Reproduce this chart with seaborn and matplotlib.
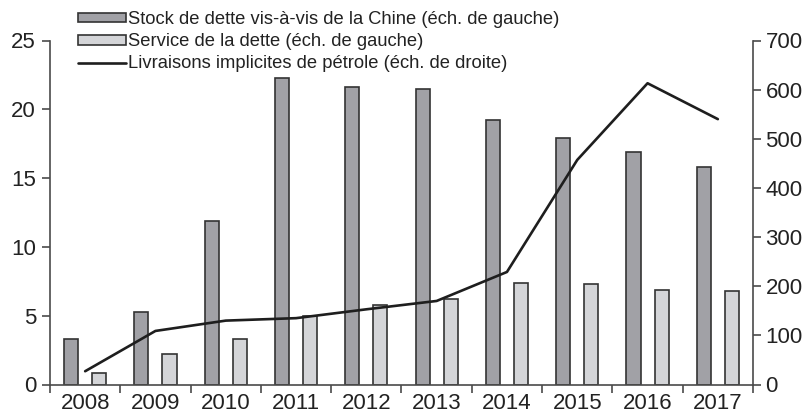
import numpy as np
import pandas as pd
import matplotlib
matplotlib.use('Agg')
import matplotlib.pyplot as plt
import seaborn as sns
from matplotlib.ticker import FixedLocator

# DATA
years = ['2008', '2009', '2010', '2011', '2012', '2013', '2014', '2015', '2016', '2017']
debt_stock = [3.3, 5.3, 11.9, 22.3, 21.6, 21.5, 19.2, 17.9, 16.9, 15.8]
debt_service = [0.8, 2.2, 3.3, 5.0, 5.8, 6.2, 7.4, 7.3, 6.9, 6.8]
oil_deliveries = [27, 109, 130, 135, 153, 170, 229, 457, 613, 540]

stock_label = "Stock de dette vis-à-vis de la Chine (éch. de gauche)"
service_label = "Service de la dette (éch. de gauche)"
oil_label = "Livraisons implicites de pétrole (éch. de droite)"

left_ticks = [0, 5, 10, 15, 20, 25]
right_ticks = [0, 100, 200, 300, 400, 500, 600, 700]

# LONG TABLE FOR THE BARS
df = pd.DataFrame({
    'year': years * 2,
    'value': debt_stock + debt_service,
    'series': [stock_label] * len(years) + [service_label] * len(years),
})

sns.set_theme(style='white')
plt.rcParams['font.family'] = ['Liberation Sans', 'DejaVu Sans']

axis_col = '#4a4a4a'
text_col = '#222222'

fig = plt.figure(figsize=(8.04, 4.16), dpi=100)
ax = fig.add_axes([50 / 804, 31.5 / 416, 703 / 804, 344 / 416])

sns.barplot(
    data=df, x='year', y='value', hue='series',
    palette=['#a1a1a6', '#d4d5d8'],
    width=0.8, gap=0.5,
    edgecolor='#333333', linewidth=1.2,
    saturation=1, ax=ax
)
handles, labels = ax.get_legend_handles_labels()
ax.get_legend().remove()

ax.set_xlim(-0.5, len(years) - 0.5)
ax.set_ylim(0, 25)
ax.set_yticks(left_ticks)
ax.set_xlabel('')
ax.set_ylabel('')

# RIGHT AXIS LINE
ax2 = ax.twinx()
sns.lineplot(x=np.arange(len(years)), y=oil_deliveries, ax=ax2,
             color='#1e1e1e', linewidth=1.9, label=oil_label, legend=False)
ax2.set_ylim(0, 700)
ax2.set_yticks(right_ticks)
ax2.set_xlim(-0.5, len(years) - 0.5)
h2, l2 = ax2.get_legend_handles_labels()

# SPINES
for s in ['top', 'right']:
    ax.spines[s].set_visible(False)
for s in ['top', 'left', 'bottom']:
    ax2.spines[s].set_visible(False)
ax.spines['left'].set_bounds(0, 25)
ax2.spines['right'].set_bounds(0, 700)
for a, s in [(ax, 'left'), (ax, 'bottom'), (ax2, 'right')]:
    a.spines[s].set_color(axis_col)
    a.spines[s].set_linewidth(1.2)

# TICKS
ax.xaxis.set_minor_locator(FixedLocator(np.arange(-0.5, len(years), 1.0)))
ax.tick_params(axis='x', which='major', length=0, pad=6, labelsize=16, labelcolor=text_col)
ax.tick_params(axis='x', which='minor', bottom=True, length=6, width=1.2, color=axis_col, direction='out')
ax.tick_params(axis='y', left=True, length=6, width=1.2, color=axis_col, pad=4,
               labelsize=16, labelcolor=text_col, direction='out')
ax2.tick_params(axis='y', right=True, length=6, width=1.2, color=axis_col, pad=3,
                labelsize=16, labelcolor=text_col, direction='out')

# LEGEND
fig.legend(
    handles + h2, labels + l2,
    loc='upper left', bbox_to_anchor=(78 / 804, 1 - 11 / 416),
    frameon=False, fontsize=13.2, borderpad=0, borderaxespad=0,
    handlelength=2.63, handleheight=0.45, handletextpad=0.12, labelspacing=0.28,
    labelcolor=text_col
)

fig.savefig('out.png', dpi=100)
